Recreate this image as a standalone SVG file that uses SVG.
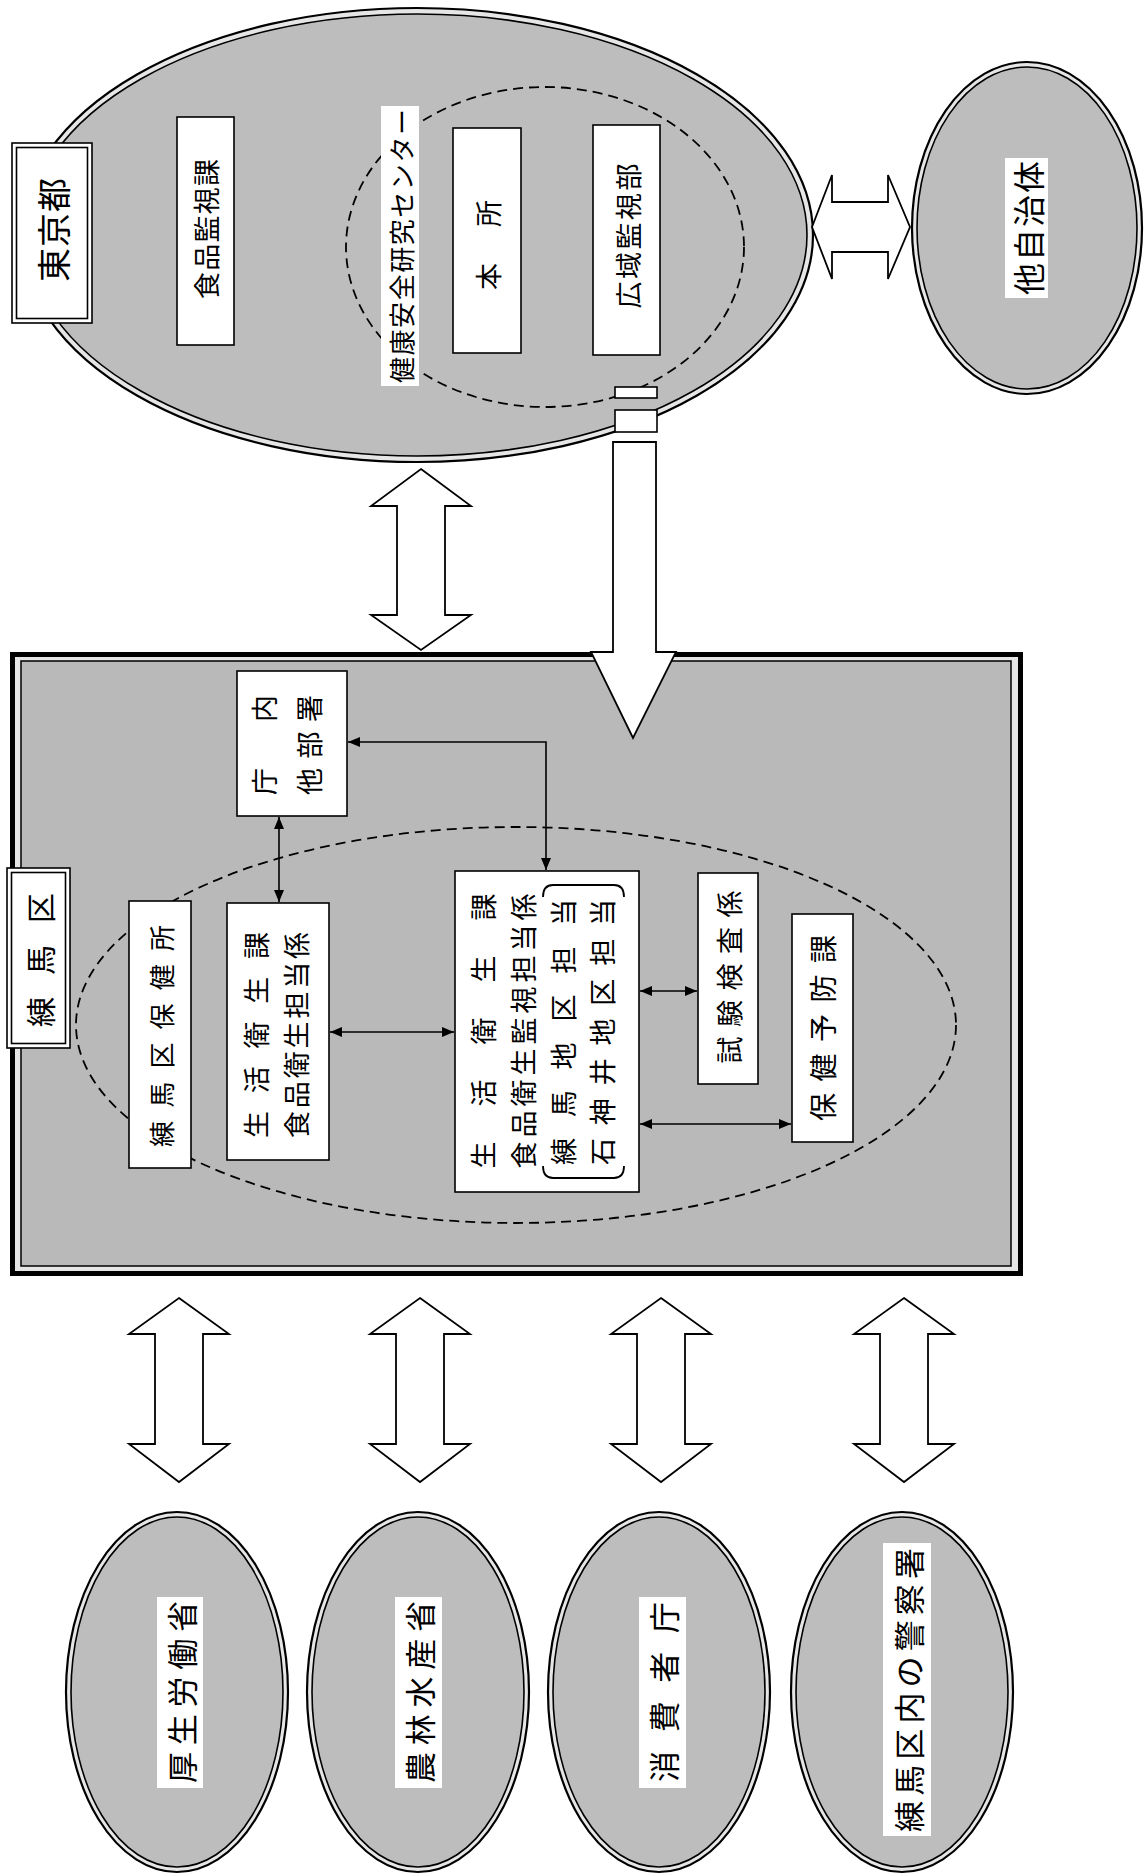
<svg xmlns="http://www.w3.org/2000/svg" width="1144" height="1875" viewBox="0 0 1144 1875">
<style>
  .bg{fill:#ffffff}
  .gray{fill:#bdbdbd;stroke:#000;stroke-width:1.6}
  .outer{fill:#e6e6e6;stroke:#000;stroke-width:2.2}
  .box{fill:#fff;stroke:#000;stroke-width:1.6}
  .strip{fill:#fff;stroke:none}
  .dash{fill:none;stroke:#000;stroke-width:1.8;stroke-dasharray:10 6}
  .fat{fill:#fff;stroke:#000;stroke-width:1.8;stroke-linejoin:miter}
  .con{fill:none;stroke:#000;stroke-width:1.6;marker-start:url(#ah);marker-end:url(#ah)}
  text{font-family:"Noto Sans CJK JP","Noto Sans CJK SC",sans-serif;fill:#000;text-anchor:middle;dominant-baseline:central}
</style>
<defs>
  <marker id="ah" viewBox="0 0 12 10" refX="12" refY="5" markerWidth="13" markerHeight="10" markerUnits="userSpaceOnUse" orient="auto-start-reverse">
    <path d="M0,0 L12,5 L0,10 z" fill="#000"/>
  </marker>
</defs>
<rect class="bg" x="0" y="0" width="1144" height="1875"/>

<!-- Tokyo -->
<g id="tokyo">
  <ellipse class="outer" cx="417" cy="235" rx="396" ry="227"/>
  <ellipse class="gray" cx="417" cy="235" rx="390" ry="221"/>
</g>
<g id="kenko-center">
  <ellipse class="dash" cx="545" cy="247" rx="199" ry="160"/>
  <rect class="strip" x="381" y="106" width="38" height="280"/>
  <text transform="translate(400,246) rotate(-90)" font-size="26" textLength="274" lengthAdjust="spacing">健康安全研究センター</text>
</g>
<g id="tokyo-label">
  <rect class="box" x="12" y="143" width="80" height="180"/>
  <rect class="box" x="16.5" y="147.5" width="71" height="171"/>
  <text transform="translate(52,230) rotate(-90)" font-size="34" textLength="104" lengthAdjust="spacing">東京都</text>
</g>
<g id="shokuhin-kanshi">
  <rect class="box" x="177" y="117" width="57" height="228"/>
  <text transform="translate(205,229) rotate(-90)" font-size="27" textLength="140" lengthAdjust="spacing">食品監視課</text>
</g>
<g id="honsho">
  <rect class="box" x="453" y="128" width="68" height="225"/>
  <text transform="translate(487,245) rotate(-90)" font-size="27" textLength="90" lengthAdjust="spacing">本所</text>
</g>
<g id="koiki">
  <rect class="box" x="593" y="125" width="67" height="230"/>
  <text transform="translate(627,236) rotate(-90)" font-size="27" textLength="145" lengthAdjust="spacing">広域監視部</text>
</g>
<g id="pipe">
  <rect class="box" x="615" y="387" width="42" height="11"/>
  <rect class="box" x="615" y="410" width="42" height="22"/>
</g>

<!-- other municipalities -->
<g id="tajichitai">
  <ellipse class="outer" cx="1027" cy="228" rx="115" ry="166"/>
  <ellipse class="gray" cx="1027" cy="228" rx="110" ry="161"/>
  <rect class="strip" x="1005" y="158" width="43" height="140"/>
  <text transform="translate(1027,228) rotate(-90)" font-size="32" textLength="134" lengthAdjust="spacing">他自治体</text>
</g>

<!-- Nerima -->
<g id="nerima">
  <rect x="12.5" y="654.5" width="1008" height="619" fill="#e6e6e6" stroke="#000" stroke-width="5"/>
  <rect x="21" y="661" width="990" height="605" fill="#b9b9b9" stroke="#000" stroke-width="1.5"/>
  <ellipse class="dash" cx="516" cy="1025" rx="440" ry="198"/>
</g>
<g id="nerima-label">
  <rect class="box" x="7" y="868" width="63" height="180"/>
  <rect class="box" x="11.5" y="872.5" width="54" height="171"/>
  <text transform="translate(39,960) rotate(-90)" font-size="30" textLength="134" lengthAdjust="spacing">練馬区</text>
</g>
<g id="hokenjo">
  <rect class="box" x="129" y="901" width="62" height="267"/>
  <text transform="translate(160,1036) rotate(-90)" font-size="26" textLength="222" lengthAdjust="spacing">練馬区保健所</text>
</g>
<g id="chonai">
  <rect class="box" x="237" y="671" width="110" height="145"/>
  <text transform="translate(263,745) rotate(-90)" font-size="27" textLength="100" lengthAdjust="spacing">庁内</text>
  <text transform="translate(308,745) rotate(-90)" font-size="27" textLength="100" lengthAdjust="spacing">他部署</text>
</g>
<g id="seikatsu-shokuhin">
  <rect class="box" x="227" y="903" width="102" height="257"/>
  <text transform="translate(255,1035) rotate(-90)" font-size="27" textLength="206" lengthAdjust="spacing">生活衛生課</text>
  <text transform="translate(295,1035) rotate(-90)" font-size="27" textLength="206" lengthAdjust="spacing">食品衛生担当係</text>
</g>
<g id="seikatsu-kanshi">
  <rect class="box" x="455" y="871" width="184" height="321"/>
  <text transform="translate(482,1031) rotate(-90)" font-size="27" textLength="275" lengthAdjust="spacing">生活衛生課</text>
  <text transform="translate(522,1031) rotate(-90)" font-size="27" textLength="275" lengthAdjust="spacing">食品衛生監視担当係</text>
  <text transform="translate(562,1032) rotate(-90)" font-size="27" textLength="266" lengthAdjust="spacing">練馬地区担当</text>
  <text transform="translate(601,1032) rotate(-90)" font-size="27" textLength="266" lengthAdjust="spacing">石神井地区担当</text>
  <path d="M543,897 Q543,885 553,885 L614,885 Q624,885 624,897" fill="none" stroke="#000" stroke-width="1.8"/>
  <path d="M543,1166 Q543,1178 553,1178 L614,1178 Q624,1178 624,1166" fill="none" stroke="#000" stroke-width="1.8"/>
</g>
<g id="shiken">
  <rect class="box" x="698" y="873" width="60" height="211"/>
  <text transform="translate(728,977) rotate(-90)" font-size="27" textLength="173" lengthAdjust="spacing">試験検査係</text>
</g>
<g id="hoken-yobo">
  <rect class="box" x="792" y="914" width="61" height="228"/>
  <text transform="translate(822,1028) rotate(-90)" font-size="28" textLength="186" lengthAdjust="spacing">保健予防課</text>
</g>

<!-- ministries -->
<g id="kosei">
  <ellipse class="outer" cx="177" cy="1692" rx="111" ry="180"/>
  <ellipse class="gray" cx="177" cy="1692" rx="106" ry="175"/>
  <rect class="strip" x="157" y="1597" width="46" height="191"/>
  <text transform="translate(180,1692) rotate(-90)" font-size="31" textLength="182" lengthAdjust="spacing">厚生労働省</text>
</g>
<g id="norin">
  <ellipse class="outer" cx="418" cy="1692" rx="111" ry="180"/>
  <ellipse class="gray" cx="418" cy="1692" rx="106" ry="175"/>
  <rect class="strip" x="395" y="1597" width="47" height="191"/>
  <text transform="translate(418,1692) rotate(-90)" font-size="31" textLength="182" lengthAdjust="spacing">農林水産省</text>
</g>
<g id="shohisha">
  <ellipse class="outer" cx="659" cy="1692" rx="111" ry="180"/>
  <ellipse class="gray" cx="659" cy="1692" rx="106" ry="175"/>
  <rect class="strip" x="639" y="1597" width="47" height="191"/>
  <text transform="translate(662,1692) rotate(-90)" font-size="31" textLength="180" lengthAdjust="spacing">消費者庁</text>
</g>
<g id="keisatsu">
  <ellipse class="outer" cx="902" cy="1692" rx="111" ry="180"/>
  <ellipse class="gray" cx="902" cy="1692" rx="106" ry="175"/>
  <rect class="strip" x="883" y="1543" width="48" height="293"/>
  <text transform="translate(907,1690) rotate(-90)" font-size="31" textLength="284" lengthAdjust="spacing">練馬区内の警察署</text>
</g>

<!-- connectors -->
<g id="connectors">
  <polygon class="fat" points="812,227 832,175 832,202 888,202 888,175 910,227 888,279 888,252 832,252 832,279"/>
  <polygon class="fat" points="421,469 471,506 445,506 445,615 471,615 421,650 371,615 397,615 397,506 371,506"/>
  <polygon class="fat" points="613,442 656,442 656,652 676,652 633,738 591,652 613,652"/>
  <polygon class="fat" points="179,1298 229,1334 203,1334 203,1444 229,1444 179,1482 129,1444 155,1444 155,1334 129,1334"/>
  <polygon class="fat" points="420,1298 470,1334 444,1334 444,1444 470,1444 420,1482 370,1444 396,1444 396,1334 370,1334"/>
  <polygon class="fat" points="661,1298 711,1334 685,1334 685,1444 711,1444 661,1482 611,1444 637,1444 637,1334 611,1334"/>
  <polygon class="fat" points="904,1298 954,1334 928,1334 928,1444 954,1444 904,1482 854,1444 880,1444 880,1334 854,1334"/>
  <line class="con" x1="279" y1="817" x2="279" y2="902"/>
  <line class="con" x1="330" y1="1032" x2="454" y2="1032"/>
  <polyline class="con" points="348,742 546,742 546,870"/>
  <line class="con" x1="640" y1="991" x2="697" y2="991"/>
  <line class="con" x1="640" y1="1124" x2="791" y2="1124"/>
</g>
</svg>
